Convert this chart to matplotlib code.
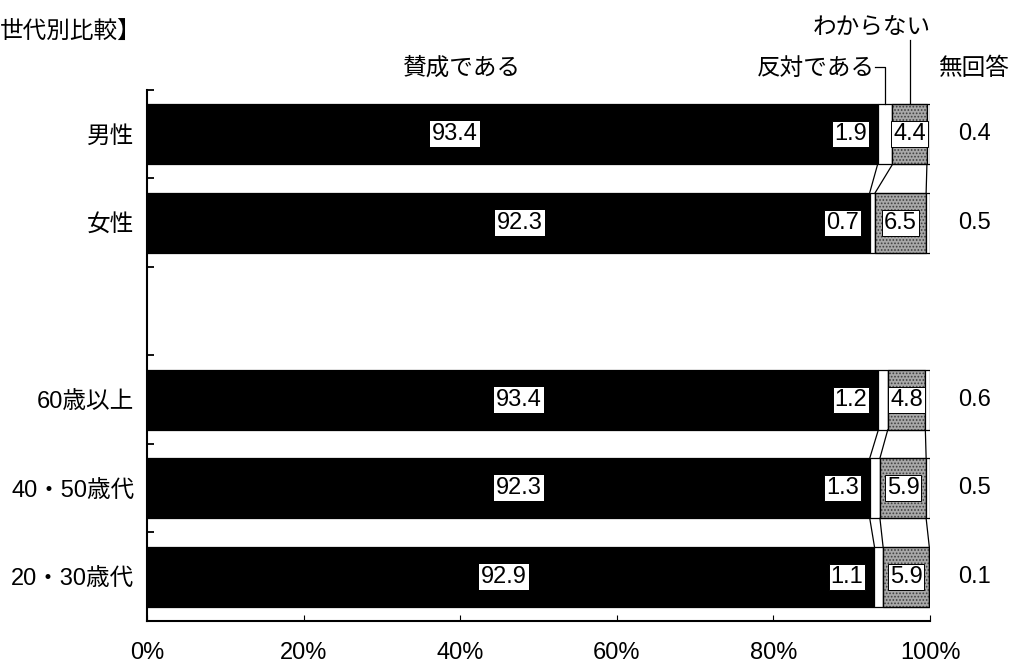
import numpy as np
import matplotlib.pyplot as plt

plt.rcParams['font.family'] = ['Liberation Sans', 'Noto Sans CJK JP']
plt.rcParams['hatch.linewidth'] = 0.8

categories = ['男性', '女性', '', '60歳以上', '40・50歳代', '20・30歳代']
agree = [93.4, 92.3, np.nan, 93.4, 92.3, 92.9]
disagree = [1.9, 0.7, np.nan, 1.2, 1.3, 1.1]
unknown = [4.4, 6.5, np.nan, 4.8, 5.9, 5.9]
no_answer = [0.4, 0.5, np.nan, 0.6, 0.5, 0.1]
series_names = ['賛成である', '反対である', 'わからない', '無回答']

# x position (in %) of the "賛成である" value boxes, as placed in the original
agree_label_x = [39.3, 47.6, np.nan, 47.5, 47.5, 45.6]

data = np.array([agree, disagree, unknown, no_answer])
# 100% stacked: normalise each row
share = data / np.nansum(data, axis=0) * 100

fig = plt.figure(figsize=(10.18, 6.66), dpi=100)
ax = fig.add_axes([0.1444, 0.0676, 0.7692, 0.7973])

y = np.arange(len(categories))
h = 0.68
valid = [i for i in range(len(categories)) if categories[i]]

left = np.zeros(len(categories))
styles = [
    dict(color='black', edgecolor='black'),
    dict(color='white', edgecolor='black'),
    dict(facecolor='#a8a8a8', edgecolor='#404040', hatch='.....'),
    dict(color='white', edgecolor='black'),
]
for k in range(4):
    vals = np.nan_to_num(share[k])
    ax.barh(y[valid], vals[valid], left=left[valid], height=h, lw=0.9, **styles[k])
    if k == 2:
        ax.barh(y[valid], vals[valid], left=left[valid], height=h, lw=0.9,
                fill=False, edgecolor='black')
    left = left + vals

# series lines between adjacent bars
cum = np.nancumsum(share, axis=0)
for i in range(len(categories) - 1):
    if categories[i] and categories[i + 1]:
        for k in range(3):
            ax.plot([cum[k, i], cum[k, i + 1]], [i + h / 2, i + 1 - h / 2],
                    color='black', lw=0.9)

box = dict(boxstyle='square,pad=0.08', facecolor='white', edgecolor='black', lw=0.7)
fs = 17
for i in valid:
    ax.text(agree_label_x[i], i, f'{agree[i]:.1f}', ha='center', va='center',
            fontsize=fs, bbox=dict(boxstyle='square,pad=0.08', facecolor='white', lw=0))
    ax.text(cum[0, i] - 1.4, i, f'{disagree[i]:.1f}', ha='right', va='center',
            fontsize=fs, bbox=box)
    ax.text(cum[1, i] + share[2, i] / 2, i, f'{unknown[i]:.1f}', ha='center',
            va='center', fontsize=fs, bbox=box)
    ax.text(105.7, i, f'{no_answer[i]:.1f}', ha='center', va='center',
            fontsize=fs, clip_on=False)

ax.set_xlim(0, 100)
ax.set_ylim(len(categories) - 0.5, -0.5)
ax.set_xticks(np.arange(0, 101, 20))
ax.set_xticklabels([f'{v}%' for v in range(0, 101, 20)], fontsize=fs)
ax.tick_params(axis='x', direction='in', length=4, pad=15)
ax.set_yticks(y)
ax.set_yticklabels(categories, fontsize=fs)
ax.set_yticks(np.arange(-0.5, len(categories), 1), minor=True)
ax.tick_params(axis='y', which='major', length=0, pad=9)
ax.tick_params(axis='y', which='minor', direction='in', length=5, width=1.3)
ax.spines['top'].set_visible(False)
ax.spines['right'].set_visible(False)
ax.spines['left'].set_linewidth(1.5)
ax.spines['bottom'].set_linewidth(1.5)

# series headers with leader lines
hy = -0.74
ax.text(40.2, hy, series_names[0], ha='center', va='center', fontsize=fs, clip_on=False)
ax.text(93.0, hy, series_names[1], ha='right', va='center', fontsize=fs, clip_on=False)
x1 = cum[0, 0] + share[1, 0] / 2
ax.plot([93.0, x1, x1], [hy - 0.02, hy - 0.02, -h / 2], color='black', lw=0.9, clip_on=False)
ax.text(92.6, -1.2, series_names[2], ha='center', va='center', fontsize=fs, clip_on=False)
x2 = cum[1, 0] + share[2, 0] / 2
ax.plot([x2, x2], [-1.06, -h / 2], color='black', lw=0.9, clip_on=False)
ax.text(105.7, hy, series_names[3], ha='center', va='center', fontsize=fs, clip_on=False)

fig.text(0.0, 0.952, '世代別比較】', ha='left', va='center', fontsize=fs)

fig.savefig('out.png', dpi=100)
